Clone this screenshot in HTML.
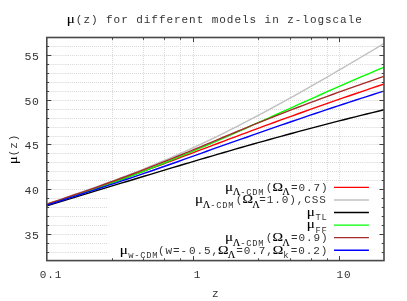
<!DOCTYPE html><html><head><meta charset="utf-8"><style>html,body{margin:0;padding:0;background:#fff}svg{display:block;will-change:transform}text{font-family:"Liberation Mono",monospace;font-size:11px;fill:#333}.s{font-family:"Liberation Serif",serif;fill:#000;stroke:#000;stroke-width:0.1px}</style></head><body>
<svg width="407" height="301" viewBox="0 0 407 301">
<rect width="407" height="301" fill="#fff"/>
<g stroke="#dadada" stroke-width="1" stroke-dasharray="1,1" fill="none">
<path d="M47,252.5H68" stroke="#eaeaea" stroke-dasharray="none"/><path d="M68,252.5H364"/><path d="M364,252.5H384.0" stroke="#eaeaea" stroke-dasharray="none"/>
<path d="M47,243.5H68" stroke="#eaeaea" stroke-dasharray="none"/><path d="M68,243.5H364"/><path d="M364,243.5H384.0" stroke="#eaeaea" stroke-dasharray="none"/>
<path d="M47,234.5H68" stroke="#eaeaea" stroke-dasharray="none"/><path d="M68,234.5H364"/><path d="M364,234.5H384.0" stroke="#eaeaea" stroke-dasharray="none"/>
<path d="M47,225.5H68" stroke="#eaeaea" stroke-dasharray="none"/><path d="M68,225.5H364"/><path d="M364,225.5H384.0" stroke="#eaeaea" stroke-dasharray="none"/>
<path d="M47,216.5H68" stroke="#eaeaea" stroke-dasharray="none"/><path d="M68,216.5H364"/><path d="M364,216.5H384.0" stroke="#eaeaea" stroke-dasharray="none"/>
<path d="M47,207.5H68" stroke="#eaeaea" stroke-dasharray="none"/><path d="M68,207.5H364"/><path d="M364,207.5H384.0" stroke="#eaeaea" stroke-dasharray="none"/>
<path d="M47,198.5H68" stroke="#eaeaea" stroke-dasharray="none"/><path d="M68,198.5H364"/><path d="M364,198.5H384.0" stroke="#eaeaea" stroke-dasharray="none"/>
<path d="M47,189.5H68" stroke="#eaeaea" stroke-dasharray="none"/><path d="M68,189.5H364"/><path d="M364,189.5H384.0" stroke="#eaeaea" stroke-dasharray="none"/>
<path d="M47,180.5H68" stroke="#eaeaea" stroke-dasharray="none"/><path d="M68,180.5H364"/><path d="M364,180.5H384.0" stroke="#eaeaea" stroke-dasharray="none"/>
<path d="M47,171.5H68" stroke="#eaeaea" stroke-dasharray="none"/><path d="M68,171.5H364"/><path d="M364,171.5H384.0" stroke="#eaeaea" stroke-dasharray="none"/>
<path d="M47,162.5H68" stroke="#eaeaea" stroke-dasharray="none"/><path d="M68,162.5H364"/><path d="M364,162.5H384.0" stroke="#eaeaea" stroke-dasharray="none"/>
<path d="M47,153.5H68" stroke="#eaeaea" stroke-dasharray="none"/><path d="M68,153.5H364"/><path d="M364,153.5H384.0" stroke="#eaeaea" stroke-dasharray="none"/>
<path d="M47,144.5H68" stroke="#eaeaea" stroke-dasharray="none"/><path d="M68,144.5H364"/><path d="M364,144.5H384.0" stroke="#eaeaea" stroke-dasharray="none"/>
<path d="M47,136.5H68" stroke="#eaeaea" stroke-dasharray="none"/><path d="M68,136.5H364"/><path d="M364,136.5H384.0" stroke="#eaeaea" stroke-dasharray="none"/>
<path d="M47,127.5H68" stroke="#eaeaea" stroke-dasharray="none"/><path d="M68,127.5H364"/><path d="M364,127.5H384.0" stroke="#eaeaea" stroke-dasharray="none"/>
<path d="M47,118.5H68" stroke="#eaeaea" stroke-dasharray="none"/><path d="M68,118.5H364"/><path d="M364,118.5H384.0" stroke="#eaeaea" stroke-dasharray="none"/>
<path d="M47,109.5H68" stroke="#eaeaea" stroke-dasharray="none"/><path d="M68,109.5H364"/><path d="M364,109.5H384.0" stroke="#eaeaea" stroke-dasharray="none"/>
<path d="M47,100.5H68" stroke="#eaeaea" stroke-dasharray="none"/><path d="M68,100.5H364"/><path d="M364,100.5H384.0" stroke="#eaeaea" stroke-dasharray="none"/>
<path d="M47,91.5H68" stroke="#eaeaea" stroke-dasharray="none"/><path d="M68,91.5H364"/><path d="M364,91.5H384.0" stroke="#eaeaea" stroke-dasharray="none"/>
<path d="M47,82.5H68" stroke="#eaeaea" stroke-dasharray="none"/><path d="M68,82.5H364"/><path d="M364,82.5H384.0" stroke="#eaeaea" stroke-dasharray="none"/>
<path d="M47,73.5H68" stroke="#eaeaea" stroke-dasharray="none"/><path d="M68,73.5H364"/><path d="M364,73.5H384.0" stroke="#eaeaea" stroke-dasharray="none"/>
<path d="M47,64.5H68" stroke="#eaeaea" stroke-dasharray="none"/><path d="M68,64.5H364"/><path d="M364,64.5H384.0" stroke="#eaeaea" stroke-dasharray="none"/>
<path d="M47,55.5H68" stroke="#eaeaea" stroke-dasharray="none"/><path d="M68,55.5H364"/><path d="M364,55.5H384.0" stroke="#eaeaea" stroke-dasharray="none"/>
<path d="M47,46.5H68" stroke="#eaeaea" stroke-dasharray="none"/><path d="M68,46.5H364"/><path d="M364,46.5H384.0" stroke="#eaeaea" stroke-dasharray="none"/>
<path d="M112.5,38V260.6"/>
<path d="M143.5,38V260.6"/>
<path d="M164.5,38V260.6"/>
<path d="M180.5,38V260.6"/>
<path d="M193.5,38V260.6"/>
<path d="M258.5,38V260.6"/>
<path d="M290.5,38V260.6"/>
<path d="M311.5,38V260.6"/>
<path d="M327.5,38V260.6"/>
<path d="M339.5,38V260.6"/>
</g>
<rect x="107.5" y="182.5" width="276.0" height="77.60000000000002" fill="#fff"/>
<clipPath id="c"><rect x="46.8" y="37.5" width="337.2" height="223.10000000000002"/></clipPath>
<g fill="none" stroke-width="1.4" clip-path="url(#c)" stroke-linejoin="round">
<path d="M46.90,204.43 L52.61,202.56 L58.32,200.69 L64.03,198.80 L69.74,196.90 L75.45,194.99 L81.16,193.07 L86.87,191.14 L92.58,189.19 L98.29,187.23 L104.00,185.26 L109.71,183.27 L115.42,181.27 L121.13,179.25 L126.84,177.22 L132.55,175.17 L138.25,173.11 L143.96,171.04 L149.67,168.95 L155.38,166.85 L161.09,164.74 L166.80,162.61 L172.51,160.48 L178.22,158.34 L183.93,156.19 L189.64,154.03 L195.35,151.88 L201.06,149.72 L206.77,147.56 L212.48,145.40 L218.19,143.24 L223.90,141.09 L229.61,138.94 L235.32,136.80 L241.03,134.67 L246.74,132.54 L252.45,130.42 L258.16,128.31 L263.87,126.20 L269.58,124.11 L275.29,122.02 L281.00,119.95 L286.71,117.88 L292.42,115.82 L298.13,113.77 L303.84,111.73 L309.55,109.70 L315.25,107.68 L320.96,105.67 L326.67,103.66 L332.38,101.66 L338.09,99.68 L343.80,97.69 L349.51,95.72 L355.22,93.76 L360.93,91.80 L366.64,89.85 L372.35,87.90 L378.06,85.97 L383.77,84.04" stroke="#ff0000"/>
<path d="M46.90,203.98 L52.61,202.07 L58.32,200.14 L64.03,198.20 L69.74,196.25 L75.45,194.28 L81.16,192.28 L86.87,190.27 L92.58,188.24 L98.29,186.19 L104.00,184.11 L109.71,182.01 L115.42,179.88 L121.13,177.73 L126.84,175.54 L132.55,173.33 L138.25,171.08 L143.96,168.80 L149.67,166.49 L155.38,164.14 L161.09,161.76 L166.80,159.34 L172.51,156.88 L178.22,154.39 L183.93,151.85 L189.64,149.28 L195.35,146.67 L201.06,144.01 L206.77,141.32 L212.48,138.59 L218.19,135.83 L223.90,133.02 L229.61,130.18 L235.32,127.30 L241.03,124.39 L246.74,121.44 L252.45,118.46 L258.16,115.45 L263.87,112.40 L269.58,109.33 L275.29,106.23 L281.00,103.10 L286.71,99.95 L292.42,96.78 L298.13,93.58 L303.84,90.36 L309.55,87.12 L315.25,83.86 L320.96,80.59 L326.67,77.29 L332.38,73.99 L338.09,70.67 L343.80,67.33 L349.51,63.98 L355.22,60.63 L360.93,57.26 L366.64,53.88 L372.35,50.49 L378.06,47.09 L383.77,43.69" stroke="#c0c0c0"/>
<path d="M46.90,205.84 L52.61,204.09 L58.32,202.35 L64.03,200.61 L69.74,198.86 L75.45,197.12 L81.16,195.38 L86.87,193.64 L92.58,191.90 L98.29,190.16 L104.00,188.42 L109.71,186.68 L115.42,184.94 L121.13,183.20 L126.84,181.47 L132.55,179.74 L138.25,178.01 L143.96,176.28 L149.67,174.55 L155.38,172.83 L161.09,171.10 L166.80,169.39 L172.51,167.67 L178.22,165.96 L183.93,164.26 L189.64,162.56 L195.35,160.86 L201.06,159.17 L206.77,157.48 L212.48,155.81 L218.19,154.14 L223.90,152.47 L229.61,150.82 L235.32,149.17 L241.03,147.53 L246.74,145.90 L252.45,144.28 L258.16,142.66 L263.87,141.06 L269.58,139.47 L275.29,137.89 L281.00,136.31 L286.71,134.75 L292.42,133.20 L298.13,131.66 L303.84,130.13 L309.55,128.62 L315.25,127.11 L320.96,125.61 L326.67,124.13 L332.38,122.66 L338.09,121.19 L343.80,119.74 L349.51,118.30 L355.22,116.87 L360.93,115.44 L366.64,114.03 L372.35,112.63 L378.06,111.24 L383.77,109.86" stroke="#000000"/>
<path d="M46.90,204.20 L52.61,202.55 L58.32,200.86 L64.03,199.13 L69.74,197.36 L75.45,195.55 L81.16,193.70 L86.87,191.81 L92.58,189.88 L98.29,187.92 L104.00,185.93 L109.71,183.90 L115.42,181.84 L121.13,179.75 L126.84,177.62 L132.55,175.47 L138.25,173.29 L143.96,171.08 L149.67,168.85 L155.38,166.59 L161.09,164.30 L166.80,161.99 L172.51,159.66 L178.22,157.31 L183.93,154.94 L189.64,152.54 L195.35,150.13 L201.06,147.70 L206.77,145.26 L212.48,142.80 L218.19,140.32 L223.90,137.83 L229.61,135.33 L235.32,132.82 L241.03,130.29 L246.74,127.76 L252.45,125.22 L258.16,122.67 L263.87,120.12 L269.58,117.56 L275.29,114.99 L281.00,112.42 L286.71,109.86 L292.42,107.29 L298.13,104.72 L303.84,102.16 L309.55,99.60 L315.25,97.04 L320.96,94.50 L326.67,91.96 L332.38,89.43 L338.09,86.91 L343.80,84.40 L349.51,81.91 L355.22,79.43 L360.93,76.96 L366.64,74.52 L372.35,72.09 L378.06,69.68 L383.77,67.30" stroke="#00ff00"/>
<path d="M46.90,204.13 L52.61,202.24 L58.32,200.33 L64.03,198.41 L69.74,196.47 L75.45,194.52 L81.16,192.56 L86.87,190.58 L92.58,188.58 L98.29,186.56 L104.00,184.52 L109.71,182.46 L115.42,180.38 L121.13,178.28 L126.84,176.15 L132.55,174.01 L138.25,171.84 L143.96,169.64 L149.67,167.42 L155.38,165.18 L161.09,162.92 L166.80,160.64 L172.51,158.33 L178.22,156.01 L183.93,153.67 L189.64,151.31 L195.35,148.94 L201.06,146.56 L206.77,144.18 L212.48,141.79 L218.19,139.40 L223.90,137.01 L229.61,134.63 L235.32,132.26 L241.03,129.90 L246.74,127.55 L252.45,125.22 L258.16,122.91 L263.87,120.61 L269.58,118.33 L275.29,116.07 L281.00,113.83 L286.71,111.62 L292.42,109.42 L298.13,107.23 L303.84,105.07 L309.55,102.92 L315.25,100.80 L320.96,98.68 L326.67,96.59 L332.38,94.50 L338.09,92.44 L343.80,90.38 L349.51,88.34 L355.22,86.31 L360.93,84.29 L366.64,82.29 L372.35,80.29 L378.06,78.31 L383.77,76.33" stroke="#a52a2a"/>
<path d="M46.90,205.17 L52.61,203.38 L58.32,201.57 L64.03,199.76 L69.74,197.94 L75.45,196.11 L81.16,194.27 L86.87,192.43 L92.58,190.58 L98.29,188.71 L104.00,186.84 L109.71,184.96 L115.42,183.06 L121.13,181.16 L126.84,179.24 L132.55,177.32 L138.25,175.38 L143.96,173.43 L149.67,171.47 L155.38,169.50 L161.09,167.51 L166.80,165.52 L172.51,163.52 L178.22,161.49 L183.93,159.46 L189.64,157.41 L195.35,155.37 L201.06,153.31 L206.77,151.25 L212.48,149.19 L218.19,147.19 L223.90,145.20 L229.61,143.20 L235.32,141.20 L241.03,139.21 L246.74,137.22 L252.45,135.20 L258.16,133.18 L263.87,131.17 L269.58,129.17 L275.29,127.18 L281.00,125.19 L286.71,123.22 L292.42,121.25 L298.13,119.30 L303.84,117.35 L309.55,115.41 L315.25,113.49 L320.96,111.57 L326.67,109.67 L332.38,107.77 L338.09,105.89 L343.80,104.01 L349.51,102.13 L355.22,100.27 L360.93,98.42 L366.64,96.57 L372.35,94.73 L378.06,92.90 L383.77,91.08" stroke="#0000ff"/>
</g>
<text class="s" transform="translate(229.08,190.50) scale(1.2,1)" text-anchor="middle" style="font-size:12.50px">μ</text><text class="s" transform="translate(236.61,194.90) scale(1.1,1)" text-anchor="middle" style="font-size:9.52px">Λ</text><text x="240.30" y="194.90" style="font-size:8.8px;letter-spacing:0.720px">-CDM</text><text x="265.69" y="190.50" style="font-size:11.0px;letter-spacing:0.900px">(</text><text class="s" transform="translate(277.84,190.50) scale(1.23,1)" text-anchor="middle" style="font-size:11.50px">Ω</text><text class="s" transform="translate(285.97,194.90) scale(1.1,1)" text-anchor="middle" style="font-size:9.52px">Λ</text><text x="291.05" y="190.50" style="font-size:11.0px;letter-spacing:0.900px">=0.7)</text>
<path d="M334,187.40H368.9" stroke="#ff0000" stroke-width="1.4" fill="none"/>
<text class="s" transform="translate(199.08,203.15) scale(1.2,1)" text-anchor="middle" style="font-size:12.50px">μ</text><text class="s" transform="translate(206.61,207.55) scale(1.1,1)" text-anchor="middle" style="font-size:9.52px">Λ</text><text x="210.30" y="207.55" style="font-size:8.8px;letter-spacing:0.720px">-CDM</text><text x="235.69" y="203.15" style="font-size:11.0px;letter-spacing:0.900px">(</text><text class="s" transform="translate(247.84,203.15) scale(1.23,1)" text-anchor="middle" style="font-size:11.50px">Ω</text><text class="s" transform="translate(255.97,207.55) scale(1.1,1)" text-anchor="middle" style="font-size:9.52px">Λ</text><text x="259.25" y="203.15" style="font-size:11.0px;letter-spacing:0.900px">=1.0),CSS</text>
<path d="M334,199.96H368.9" stroke="#c0c0c0" stroke-width="1.4" fill="none"/>
<text class="s" transform="translate(310.80,215.80) scale(1.2,1)" text-anchor="middle" style="font-size:12.50px">μ</text><text x="315.56" y="220.20" style="font-size:8.8px;letter-spacing:0.720px">TL</text>
<path d="M334,212.52H368.9" stroke="#000000" stroke-width="1.4" fill="none"/>
<text class="s" transform="translate(310.80,228.45) scale(1.2,1)" text-anchor="middle" style="font-size:12.50px">μ</text><text x="315.56" y="232.85" style="font-size:8.8px;letter-spacing:0.720px">FF</text>
<path d="M334,225.08H368.9" stroke="#00ff00" stroke-width="1.4" fill="none"/>
<text class="s" transform="translate(229.08,241.10) scale(1.2,1)" text-anchor="middle" style="font-size:12.50px">μ</text><text class="s" transform="translate(236.61,245.50) scale(1.1,1)" text-anchor="middle" style="font-size:9.52px">Λ</text><text x="240.30" y="245.50" style="font-size:8.8px;letter-spacing:0.720px">-CDM</text><text x="265.69" y="241.10" style="font-size:11.0px;letter-spacing:0.900px">(</text><text class="s" transform="translate(277.84,241.10) scale(1.23,1)" text-anchor="middle" style="font-size:11.50px">Ω</text><text class="s" transform="translate(285.97,245.50) scale(1.1,1)" text-anchor="middle" style="font-size:9.52px">Λ</text><text x="291.05" y="241.10" style="font-size:11.0px;letter-spacing:0.900px">=0.9)</text>
<path d="M334,237.64H368.9" stroke="#a52a2a" stroke-width="1.4" fill="none"/>
<text class="s" transform="translate(123.79,253.75) scale(1.2,1)" text-anchor="middle" style="font-size:12.50px">μ</text><text x="128.30" y="258.15" style="font-size:8.8px;letter-spacing:0.720px">w-CDM</text><text x="157.89" y="253.75" style="font-size:11.0px;letter-spacing:0.900px">(w=-</text><text x="189.04" y="253.75" style="font-size:11.0px;letter-spacing:0.900px">0.5,</text><text class="s" transform="translate(223.34,253.75) scale(1.23,1)" text-anchor="middle" style="font-size:11.50px">Ω</text><text class="s" transform="translate(231.57,258.15) scale(1.1,1)" text-anchor="middle" style="font-size:9.52px">Λ</text><text x="236.15" y="253.75" style="font-size:11.0px;letter-spacing:0.900px">=0.7,</text><text class="s" transform="translate(278.10,253.75) scale(1.23,1)" text-anchor="middle" style="font-size:11.50px">Ω</text><text x="283.26" y="258.15" style="font-size:8.8px;letter-spacing:0.720px">k</text><text x="290.75" y="253.75" style="font-size:11.0px;letter-spacing:0.900px">=0.2)</text>
<path d="M334,250.20H368.9" stroke="#0000ff" stroke-width="1.4" fill="none"/>
<g stroke="#484848" stroke-width="1.6" fill="none">
<rect x="46.8" y="37.5" width="337.2" height="223.10000000000002"/>
</g><g stroke="#404040" stroke-width="1" fill="none">
<path d="M46.8,252.5h2.3M384.0,252.5h-2.3"/>
<path d="M46.8,243.5h2.3M384.0,243.5h-2.3"/>
<path d="M46.8,234.5h4.5M384.0,234.5h-4.5"/>
<path d="M46.8,225.5h2.3M384.0,225.5h-2.3"/>
<path d="M46.8,216.5h2.3M384.0,216.5h-2.3"/>
<path d="M46.8,207.5h2.3M384.0,207.5h-2.3"/>
<path d="M46.8,198.5h2.3M384.0,198.5h-2.3"/>
<path d="M46.8,189.5h4.5M384.0,189.5h-4.5"/>
<path d="M46.8,180.5h2.3M384.0,180.5h-2.3"/>
<path d="M46.8,171.5h2.3M384.0,171.5h-2.3"/>
<path d="M46.8,162.5h2.3M384.0,162.5h-2.3"/>
<path d="M46.8,153.5h2.3M384.0,153.5h-2.3"/>
<path d="M46.8,144.5h4.5M384.0,144.5h-4.5"/>
<path d="M46.8,136.5h2.3M384.0,136.5h-2.3"/>
<path d="M46.8,127.5h2.3M384.0,127.5h-2.3"/>
<path d="M46.8,118.5h2.3M384.0,118.5h-2.3"/>
<path d="M46.8,109.5h2.3M384.0,109.5h-2.3"/>
<path d="M46.8,100.5h4.5M384.0,100.5h-4.5"/>
<path d="M46.8,91.5h2.3M384.0,91.5h-2.3"/>
<path d="M46.8,82.5h2.3M384.0,82.5h-2.3"/>
<path d="M46.8,73.5h2.3M384.0,73.5h-2.3"/>
<path d="M46.8,64.5h2.3M384.0,64.5h-2.3"/>
<path d="M46.8,55.5h4.5M384.0,55.5h-4.5"/>
<path d="M46.8,46.5h2.3M384.0,46.5h-2.3"/>
<path d="M112.5,260.6v-2.3M112.5,37.5v2.3"/>
<path d="M143.5,260.6v-2.3M143.5,37.5v2.3"/>
<path d="M164.5,260.6v-2.3M164.5,37.5v2.3"/>
<path d="M180.5,260.6v-2.3M180.5,37.5v2.3"/>
<path d="M193.5,260.6v-4.5M193.5,37.5v4.5"/>
<path d="M258.5,260.6v-2.3M258.5,37.5v2.3"/>
<path d="M290.5,260.6v-2.3M290.5,37.5v2.3"/>
<path d="M311.5,260.6v-2.3M311.5,37.5v2.3"/>
<path d="M327.5,260.6v-2.3M327.5,37.5v2.3"/>
<path d="M339.5,260.6v-4.5M339.5,37.5v4.5"/>
</g>
<text x="24.60" y="238.90" style="font-size:11.5px;letter-spacing:0.600px">35</text>
<text x="24.60" y="193.90" style="font-size:11.5px;letter-spacing:0.600px">40</text>
<text x="24.60" y="148.90" style="font-size:11.5px;letter-spacing:0.600px">45</text>
<text x="24.60" y="104.90" style="font-size:11.5px;letter-spacing:0.600px">50</text>
<text x="24.60" y="59.90" style="font-size:11.5px;letter-spacing:0.600px">55</text>
<text x="39.85" y="277.60" style="font-size:11.0px;letter-spacing:0.900px">0.1</text>
<text x="193.75" y="277.60" style="font-size:11.0px;letter-spacing:0.900px">1</text>
<text x="336.40" y="277.60" style="font-size:11.0px;letter-spacing:0.900px">10</text>
<text x="212.10" y="296.70" style="font-size:11.0px;letter-spacing:0.900px">z</text>
<text class="s" transform="translate(70.75,22.70) scale(1.2,1)" text-anchor="middle" style="font-size:12.50px">μ</text><text x="75.83" y="22.70" style="font-size:11.0px;letter-spacing:0.950px">(z) for different models in z-logscale</text>
<g transform="translate(17,149) rotate(-90)"><text class="s" transform="translate(-11.25,0.00) scale(1.2,1)" text-anchor="middle" style="font-size:12.50px">μ</text><text x="-7.20" y="0.00" style="font-size:11.0px;letter-spacing:0.900px">(z)</text></g>
</svg></body></html>
